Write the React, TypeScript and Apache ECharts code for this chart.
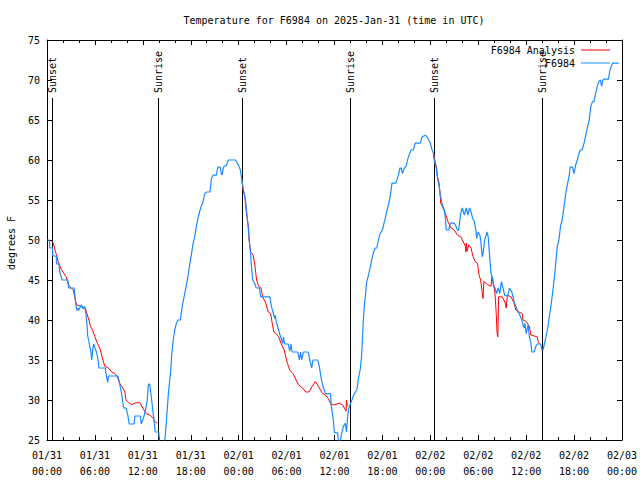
import React, { useEffect, useRef } from "react";
import * as echarts from "echarts";

// hours since 2025-01-31 00:00 UTC
const xTickLabels = [
  "01/31\n00:00", "01/31\n06:00", "01/31\n12:00", "01/31\n18:00",
  "02/01\n00:00", "02/01\n06:00", "02/01\n12:00", "02/01\n18:00",
  "02/02\n00:00", "02/02\n06:00", "02/02\n12:00", "02/02\n18:00",
  "02/03\n00:00",
];

const sunHours = [0.57, 13.95, 24.45, 37.97, 48.5, 62.0];
const sunLabels = ["Sunset", "Sunrise", "Sunset", "Sunrise", "Sunset", "Sunrise"];

const observed: [number, number][] = [
  [0.0, 50.0], [0.3, 50.0], [0.35, 49.0], [0.7, 49.0], [0.72, 48.0], [1.15, 48.0], [1.2, 47.0], [1.5, 47.0],
  [1.6, 46.0], [1.75, 45.5], [1.9, 45.0], [2.6, 45.0], [2.7, 44.0], [3.4, 44.0], [3.5, 43.0], [3.6, 42.0],
  [3.75, 41.2], [3.85, 41.5], [3.95, 41.2], [4.1, 41.5], [4.3, 41.9], [4.5, 41.4], [4.7, 41.7], [4.85, 41.0],
  [5.0, 39.5], [5.1, 38.0], [5.3, 37.0], [5.4, 36.5], [5.5, 36.0], [5.6, 35.0], [5.75, 36.5], [5.85, 37.0],
  [6.0, 36.5], [6.2, 36.0], [6.4, 35.0], [6.5, 34.0], [7.3, 34.0], [7.45, 33.0], [7.6, 32.2], [7.7, 33.0],
  [8.9, 33.0], [9.1, 32.0], [9.3, 31.0], [9.45, 30.0], [9.6, 29.0], [9.9, 29.0], [10.1, 28.2], [10.3, 27.0],
  [10.9, 27.0], [11.0, 28.0], [11.7, 28.0], [11.8, 27.0], [12.1, 27.8], [12.35, 28.8], [12.55, 30.0],
  [12.7, 32.0], [12.85, 32.0], [13.05, 30.5], [13.3, 28.3], [13.55, 26.0], [14.0, 26.0], [14.1, 24.5],
  [14.4, 23.8], [14.7, 24.5], [14.85, 26.0], [15.0, 28.0], [15.2, 30.8], [15.5, 33.75], [15.6, 35.4],
  [15.8, 37.5], [16.0, 38.75], [16.2, 39.6], [16.4, 40.0], [16.7, 40.0], [16.8, 40.8], [17.0, 42.1],
  [17.25, 43.3], [17.5, 44.6], [17.7, 45.8], [17.9, 47.1], [18.1, 48.3], [18.3, 49.6], [18.5, 50.4],
  [18.7, 51.7], [18.9, 52.7], [19.1, 53.5], [19.3, 54.2], [19.5, 54.6], [19.75, 55.8], [20.0, 56.0],
  [20.4, 56.0], [20.6, 57.7], [20.8, 58.1], [21.2, 58.1], [21.4, 59.1], [21.7, 59.1], [21.85, 58.2],
  [21.95, 58.2], [22.1, 59.1], [22.5, 59.4], [22.7, 60.0], [23.6, 60.0], [23.9, 59.5], [24.2, 58.8],
  [24.4, 57.5], [24.6, 56.25], [24.9, 54.6], [25.1, 52.5], [25.3, 50.4], [25.5, 48.1], [25.6, 46.7],
  [25.75, 45.0], [26.0, 44.6], [26.2, 44.0], [26.6, 44.0], [26.75, 42.9], [27.9, 42.9], [28.1, 41.7],
  [28.3, 41.0], [28.5, 40.2], [28.6, 40.6], [28.7, 39.8], [29.0, 38.75], [29.25, 37.9], [29.5, 37.1],
  [29.6, 37.9], [29.75, 37.0], [30.2, 37.0], [30.4, 36.1], [30.55, 37.0], [30.7, 36.0], [31.4, 36.0],
  [31.6, 35.0], [31.75, 36.0], [31.9, 35.0], [32.1, 36.0], [32.7, 36.0], [32.9, 35.0], [33.15, 34.0],
  [33.3, 35.0], [33.9, 35.0], [34.1, 34.2], [34.3, 32.9], [34.5, 31.9], [34.85, 30.8], [35.5, 30.8],
  [35.6, 29.2], [35.8, 27.9], [36.0, 25.9], [36.4, 25.9], [36.5, 24.6], [36.75, 25.0], [36.85, 25.6],
  [37.1, 26.7], [37.35, 27.1], [37.5, 26.0], [37.65, 28.0], [37.8, 29.0], [38.1, 29.8], [38.4, 30.6],
  [38.6, 31.0], [38.8, 31.25], [39.0, 32.7], [39.25, 34.0], [39.4, 35.6], [39.5, 37.7], [39.6, 39.8],
  [39.75, 41.9], [39.9, 43.3], [40.0, 44.6], [40.25, 45.6], [40.5, 46.7], [40.7, 47.7], [40.9, 48.5],
  [41.1, 49.0], [41.3, 49.0], [41.5, 50.0], [41.7, 50.8], [42.0, 51.25], [42.2, 52.1], [42.4, 52.9],
  [42.6, 53.75], [42.8, 54.6], [43.0, 55.6], [43.2, 57.1], [43.7, 57.1], [44.0, 58.1], [44.2, 59.0],
  [44.35, 59.0], [44.5, 58.3], [44.75, 59.0], [44.96, 59.2], [45.2, 60.2], [45.4, 60.8], [45.6, 61.25],
  [45.85, 61.25], [46.1, 62.1], [46.75, 62.1], [46.96, 62.9], [47.4, 63.1], [47.7, 62.7], [48.0, 62.1],
  [48.2, 61.3], [48.4, 60.8], [48.5, 59.8], [48.7, 59.2], [48.9, 57.7], [49.1, 56.7], [49.25, 55.6],
  [49.5, 54.4], [49.75, 53.75], [49.9, 52.5], [50.0, 51.25], [50.3, 51.25], [50.5, 52.1], [51.0, 52.1],
  [51.2, 51.75], [51.4, 51.2], [51.55, 51.25], [51.7, 52.5], [51.8, 53.3], [52.0, 54.0], [52.25, 53.1],
  [52.5, 54.0], [52.7, 53.1], [52.9, 54.0], [53.1, 53.5], [53.3, 52.7], [53.5, 52.3], [53.7, 51.25],
  [53.8, 50.2], [54.0, 51.0], [54.2, 50.6], [54.3, 50.0], [54.5, 47.9], [54.6, 48.3], [54.8, 50.0],
  [55.1, 51.0], [55.25, 50.4], [55.4, 48.3], [55.6, 45.8], [55.8, 45.2], [55.9, 44.2], [56.1, 44.0],
  [56.3, 43.3], [56.5, 44.0], [56.7, 43.3], [56.9, 44.8], [57.1, 44.0], [57.3, 43.1], [57.7, 43.0],
  [57.9, 44.0], [58.2, 43.5], [58.5, 42.3], [58.7, 41.7], [58.9, 41.25], [59.1, 40.8], [59.3, 40.4],
  [59.5, 39.8], [59.75, 39.0], [59.85, 39.6], [60.0, 38.3], [60.25, 39.4], [60.4, 37.9], [60.6, 37.1],
  [60.7, 36.0], [61.0, 36.0], [61.2, 36.7], [61.4, 37.0], [61.8, 37.0], [61.96, 36.25], [62.1, 36.25],
  [62.4, 37.5], [62.7, 39.0], [62.9, 40.4], [63.1, 41.7], [63.3, 43.3], [63.5, 45.0], [63.7, 47.1],
  [63.9, 49.2], [64.1, 50.0], [64.3, 51.7], [64.5, 52.5], [64.75, 54.2], [64.96, 55.8], [65.2, 57.1],
  [65.4, 58.1], [65.5, 59.1], [65.8, 59.1], [66.0, 58.3], [66.2, 59.4], [66.4, 60.0], [66.6, 60.8],
  [66.8, 61.25], [67.0, 61.25], [67.3, 62.3], [67.5, 63.3], [67.7, 64.2], [67.9, 65.0], [68.1, 66.7],
  [68.3, 67.3], [68.5, 67.3], [68.7, 68.3], [68.9, 69.2], [69.1, 69.8], [69.3, 70.0], [69.45, 69.2],
  [69.6, 70.0], [69.75, 70.1], [70.3, 70.1], [70.5, 71.25], [70.8, 72.1], [71.6, 72.1],
];

const analysisNight1: [number, number][] = [
  [0.55, 49.9], [0.8, 49.6], [1.0, 48.75], [1.2, 48.1], [1.4, 47.3], [1.7, 46.5], [2.0, 46.0], [2.4, 45.4],
  [2.7, 44.4], [3.0, 44.0], [3.3, 43.75], [3.5, 42.7], [3.7, 41.9], [4.1, 41.75], [4.5, 41.6], [4.8, 41.5],
  [5.0, 40.8], [5.25, 40.0], [5.45, 39.2], [5.7, 38.75], [6.0, 37.9], [6.3, 37.1], [6.6, 36.5], [6.8, 35.8],
  [7.0, 35.0], [7.25, 34.2], [7.7, 34.0], [8.1, 33.5], [8.5, 33.3], [8.8, 32.9], [9.1, 32.1], [9.5, 31.5],
  [9.75, 31.0], [9.9, 30.0], [10.2, 29.7], [10.6, 29.4], [11.0, 29.6], [11.6, 29.7], [12.0, 29.0],
  [12.4, 28.3], [12.9, 28.1], [13.3, 27.7], [13.5, 27.3], [13.8, 27.1],
];

const analysisNight2: [number, number][] = [
  [24.4, 57.5], [24.55, 56.25], [24.8, 55.4], [24.85, 54.4], [25.04, 52.9], [25.25, 51.5], [25.3, 50.0],
  [25.5, 48.5], [25.8, 48.1], [26.0, 47.1], [26.15, 45.8], [26.25, 45.0], [26.5, 44.2], [26.8, 44.0],
  [27.0, 42.9], [27.4, 42.1], [27.7, 41.0], [28.0, 40.8], [28.2, 39.6], [28.4, 38.5], [28.7, 38.3],
  [29.0, 37.9], [29.3, 37.1], [29.7, 36.25], [29.9, 35.4], [30.1, 34.6], [30.4, 33.75], [30.8, 33.3],
  [31.2, 32.5], [31.5, 31.9], [32.0, 31.5], [32.4, 31.0], [32.8, 31.0], [33.2, 31.7], [33.6, 32.3],
  [34.0, 31.7], [34.5, 30.8], [34.9, 30.6], [35.2, 30.2], [35.6, 29.4], [36.0, 29.4], [36.6, 29.6],
  [37.0, 29.4], [37.35, 28.8], [37.45, 28.6], [37.5, 30.0], [37.6, 29.2],
];

const analysisNight3: [number, number][] = [
  [48.4, 60.8], [48.5, 60.2], [48.7, 59.4], [48.85, 58.5], [48.9, 57.9], [49.1, 57.1], [49.25, 55.4],
  [49.3, 54.6], [49.5, 54.2], [49.9, 53.3], [50.2, 52.3], [50.6, 51.5], [51.0, 51.25], [51.4, 50.6],
  [51.8, 50.4], [52.0, 50.0], [52.4, 49.2], [52.45, 48.5], [52.5, 49.6], [52.6, 48.6], [52.8, 49.4],
  [53.1, 49.0], [53.3, 48.1], [53.6, 47.3], [53.9, 47.1], [54.1, 45.6], [54.3, 45.0], [54.45, 43.75],
  [54.6, 42.7], [54.7, 44.8], [55.2, 44.4], [55.6, 44.2], [55.7, 45.4], [55.9, 44.6], [56.1, 43.3],
  [56.25, 40.8], [56.35, 38.5], [56.45, 37.9], [56.55, 42.9], [57.0, 42.9], [57.4, 42.1], [57.5, 41.5],
  [57.65, 43.1], [58.1, 42.9], [58.5, 42.1], [58.7, 41.25], [59.1, 41.0], [59.5, 40.8], [59.6, 40.0],
  [60.0, 39.8], [60.4, 39.2], [60.6, 38.1], [61.0, 38.0], [61.4, 37.9], [61.5, 37.3], [61.7, 37.0],
];

const FONT = '"DejaVu Sans Mono", "Liberation Mono", monospace';
const RED = "#ff0000";
const BLUE = "#1a8cff";

export default function App() {
  const ref = useRef<HTMLDivElement>(null);
  useEffect(() => {
    if (!ref.current) return;
    const chart = echarts.init(ref.current, null, { renderer: "svg" });
    const analysis: any[] = [
      ...analysisNight1, [19, null],
      ...analysisNight2, [43, null],
      ...analysisNight3,
    ];
    const gridLeft = 47, gridTop = 40, gridRight = 18, gridBottom = 40;
    const axisCommon = {
      type: "value" as const,
      axisLine: { show: true, onZero: false, lineStyle: { color: "#000", width: 1 } },
      splitLine: { show: false },
    };
    chart.setOption({
      animation: false,
      backgroundColor: "#fff",
      grid: { left: gridLeft, top: gridTop, right: gridRight, bottom: gridBottom, containLabel: false, outerBoundsMode: "none" },
      xAxis: [
        {
          ...axisCommon,
          min: 0, max: 72, interval: 6,
          axisTick: { show: true, inside: true, length: 5, lineStyle: { color: "#000" } },
          minorTick: { show: true, splitNumber: 3, length: 3, lineStyle: { color: "#000" } },
          axisLabel: {
            fontFamily: FONT, fontSize: 10, color: "#000", margin: 7, lineHeight: 16,
            formatter: (v: number) => xTickLabels[Math.round(v / 6)] ?? "",
          },
        },
        {
          ...axisCommon,
          position: "top",
          min: 0, max: 72, interval: 6,
          axisTick: { show: true, inside: true, length: 5, lineStyle: { color: "#000" } },
          minorTick: { show: true, splitNumber: 3, length: 3, lineStyle: { color: "#000" } },
          axisLabel: { show: false },
        },
      ],
      yAxis: [
        {
          ...axisCommon,
          min: 25, max: 75, interval: 5,
          axisTick: { show: true, inside: true, length: 5, lineStyle: { color: "#000" } },
          axisLabel: { fontFamily: FONT, fontSize: 10, color: "#000", margin: 7 },
        },
        {
          ...axisCommon,
          position: "right",
          min: 25, max: 75, interval: 5,
          axisTick: { show: true, inside: true, length: 5, lineStyle: { color: "#000" } },
          axisLabel: { show: false },
        },
      ],
      graphic: [
        {
          type: "text", x: 334, y: 20,
          style: { text: "Temperature for F6984 on 2025-Jan-31 (time in UTC)", font: `10px ${FONT}`, fill: "#000", align: "center", verticalAlign: "middle" },
        },
        {
          type: "text", x: 11, y: 243, rotation: Math.PI / 2,
          style: { text: "degrees F", font: `10px ${FONT}`, fill: "#000", align: "center", verticalAlign: "middle" },
        },
        {
          type: "text", x: 575, y: 50, z: 100,
          style: { text: "F6984 Analysis", font: `10px ${FONT}`, fill: "#000", align: "right", verticalAlign: "middle" },
        },
        { type: "line", z: 100, shape: { x1: 581, y1: 50, x2: 610, y2: 50 }, style: { stroke: RED, lineWidth: 1 } },
        {
          type: "text", x: 575, y: 63, z: 100,
          style: { text: "F6984", font: `10px ${FONT}`, fill: "#000", align: "right", verticalAlign: "middle" },
        },
        { type: "line", z: 100, shape: { x1: 581, y1: 63, x2: 610, y2: 63 }, style: { stroke: BLUE, lineWidth: 1 } },
      ],
      series: [
        {
          type: "custom",
          z: 1,
          clip: false,
          data: sunHours.map((h) => [h, 25]),
          encode: { x: 0, y: 1 },
          renderItem: (params: any, api: any) => {
            const h = api.value(0);
            const p = api.coord([h, 25]);
            const top = params.coordSys.y;
            const x = Math.round(p[0]) + 0.5;
            return {
              type: "group",
              children: [
                {
                  type: "line",
                  shape: { x1: x, y1: p[1], x2: x, y2: top + 58 },
                  style: { stroke: "#000", lineWidth: 1 },
                },
                {
                  type: "text",
                  x: x, y: top + 53,
                  rotation: Math.PI / 2,
                  style: {
                    text: sunLabels[params.dataIndex], font: `10px ${FONT}`, fill: "#000",
                    align: "left", verticalAlign: "middle", textAlign: "left", textVerticalAlign: "middle",
                  },
                },
              ],
            };
          },
        },
        {
          name: "F6984 Analysis",
          type: "line",
          z: 2,
          data: analysis,
          showSymbol: false,
          symbol: "none",
          connectNulls: false,
          lineStyle: { color: RED, width: 1 },
          itemStyle: { color: RED },
        },
        {
          name: "F6984",
          type: "line",
          z: 3,
          data: observed,
          showSymbol: false,
          symbol: "none",
          lineStyle: { color: BLUE, width: 1.2 },
          itemStyle: { color: BLUE },
        },
      ],
    });
    return () => chart.dispose();
  }, []);
  return (
    <div
      ref={ref}
      style={{ position: "fixed", left: 0, top: 0, width: 640, height: 480, background: "#fff" }}
    />
  );
}
